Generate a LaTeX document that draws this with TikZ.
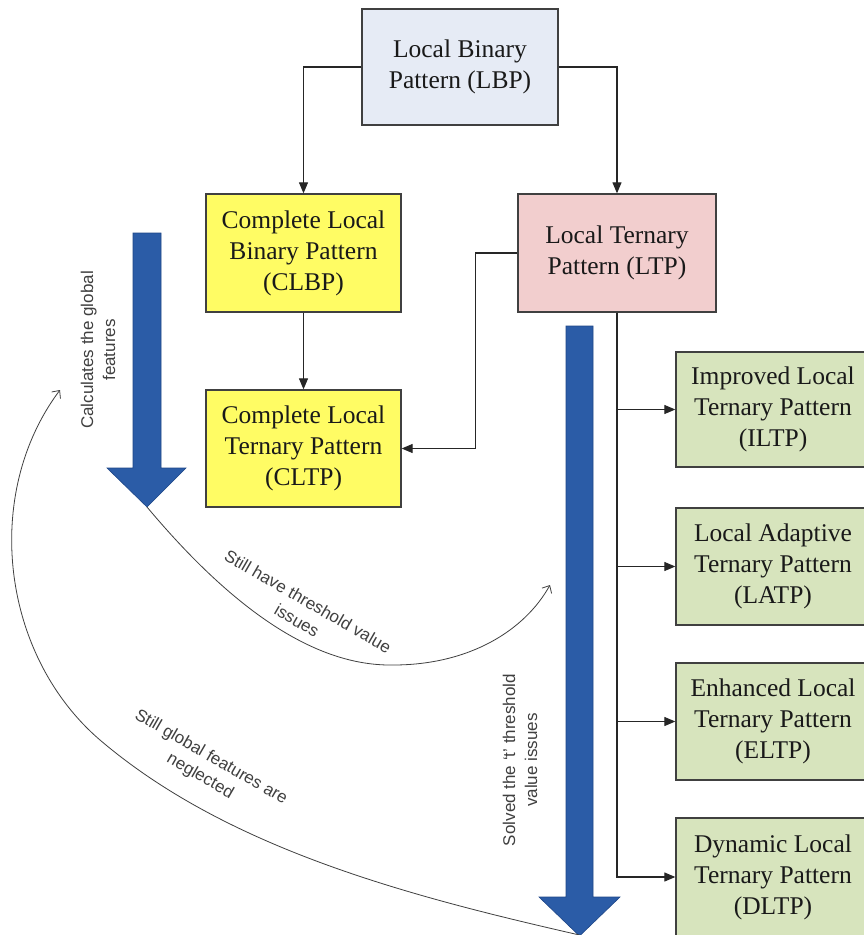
\documentclass[tikz,border=0pt]{standalone}
\usepackage{fontspec}
\setmainfont{Liberation Serif}
\setsansfont{Liberation Sans}
\usetikzlibrary{arrows.meta}
\definecolor{lbpc}{RGB}{230,235,245}
\definecolor{yelc}{RGB}{255,252,100}
\definecolor{pinkc}{RGB}{242,206,206}
\definecolor{grnc}{RGB}{215,228,189}
\definecolor{boxline}{RGB}{64,64,64}
\definecolor{bluec}{RGB}{43,92,167}
\definecolor{bluedk}{RGB}{30,70,135}
\begin{document}
\begin{tikzpicture}[x=1pt,y=-1pt,
  box/.style={draw=boxline, line width=1.3pt, align=center, inner sep=0pt,
    font=\fontsize{25.5}{31}\selectfont, text=black!90},
  conn/.style={draw=black!85, line width=1.1pt, -{Triangle[length=11pt,width=9pt]}},
  plain/.style={draw=black!85, line width=1.1pt},
  note/.style={font=\sffamily\fontsize{17}{22}\selectfont, align=center, text=black!75, inner sep=0pt},
  curve/.style={draw=black!75, line width=0.8pt, -{Straight Barb[length=6pt,width=11pt]}},
  bigarrow/.style={fill=bluec, draw=bluedk, line width=0.6pt, line join=miter}]
\useasboundingbox (0,0) rectangle (863,935);
\fill[white] (0,0) rectangle (863,935);

% boxes
\node[box, fill=lbpc, minimum width=196pt, minimum height=116pt] (lbp) at (460,67) {Local Binary\\Pattern (LBP)};
\node[box, fill=yelc, minimum width=195pt, minimum height=118pt] (clbp) at (303.5,253) {Complete Local\\Binary Pattern\\(CLBP)};
\node[box, fill=pinkc, minimum width=198pt, minimum height=118pt] (ltp) at (617,253) {Local Ternary\\Pattern (LTP)};
\node[box, fill=yelc, minimum width=195pt, minimum height=117pt] (cltp) at (303.5,448.5) {Complete Local\\Ternary Pattern\\(CLTP)};
\node[box, fill=grnc, minimum width=194pt, minimum height=115pt] (iltp) at (773,409.5) {Improved Local\\Ternary Pattern\\(ILTP)};
\node[box, fill=grnc, minimum width=194pt, minimum height=117pt] (latp) at (773,566.5) {Local Adaptive\\Ternary Pattern\\(LATP)};
\node[box, fill=grnc, minimum width=194pt, minimum height=117pt] (eltp) at (773,721.5) {Enhanced Local\\Ternary Pattern\\(ELTP)};
\node[box, fill=grnc, minimum width=194pt, minimum height=118pt] (dltp) at (773,877) {Dynamic Local\\Ternary Pattern\\(DLTP)};

% connectors
\draw[conn] (lbp.west) -| (clbp.north);
\draw[conn] (lbp.east) -| (ltp.north);
\draw[conn] (clbp.south) -- (cltp.north);
\draw[conn] (ltp.west) -- ++(-42,0) |- (cltp.east);
\draw[conn] (ltp.south) |- (iltp.west);
\draw[conn] (ltp.south) |- (latp.west);
\draw[conn] (ltp.south) |- (eltp.west);
\draw[conn] (ltp.south) |- (dltp.west);

% big blue arrows
\draw[bigarrow] (133,233) -- (161,233) -- (161,468) -- (186,468) -- (147,507) -- (107,468) -- (133,468) -- cycle;
\coordinate (tipL) at (147,507);
\draw[bigarrow] (566,326) -- (593,326) -- (593,897) -- (620,897) -- (579.5,936) -- (539,897) -- (566,897) -- cycle;
\coordinate (tipR) at (579.5,935);

% curved arrows
\coordinate (c1end) at (550,585);
\coordinate (c2end) at (60,390);
\draw[curve] (tipL) .. controls (250,630) and (330,666) .. (393,665) .. controls (470,665) and (525,630) .. (c1end);
\draw[curve] (tipR) .. controls (413,897) and (229,850) .. (100,740) .. controls (1,655) and (-18,494) .. (c2end);

% notes
\node[note, rotate=90] (n1) at (98,350) {Calculates the global\\features};
\node[note, rotate=90] (n2) at (520,760) {Solved the ‘t’ threshold\\value issues};
\node[note, rotate=-30] (n3) at (302.5,611) {Still have threshold value\\issues};
\node[note, rotate=-30] (n4) at (205.5,767) {Still global features are\\neglected};
\end{tikzpicture}
\end{document}
